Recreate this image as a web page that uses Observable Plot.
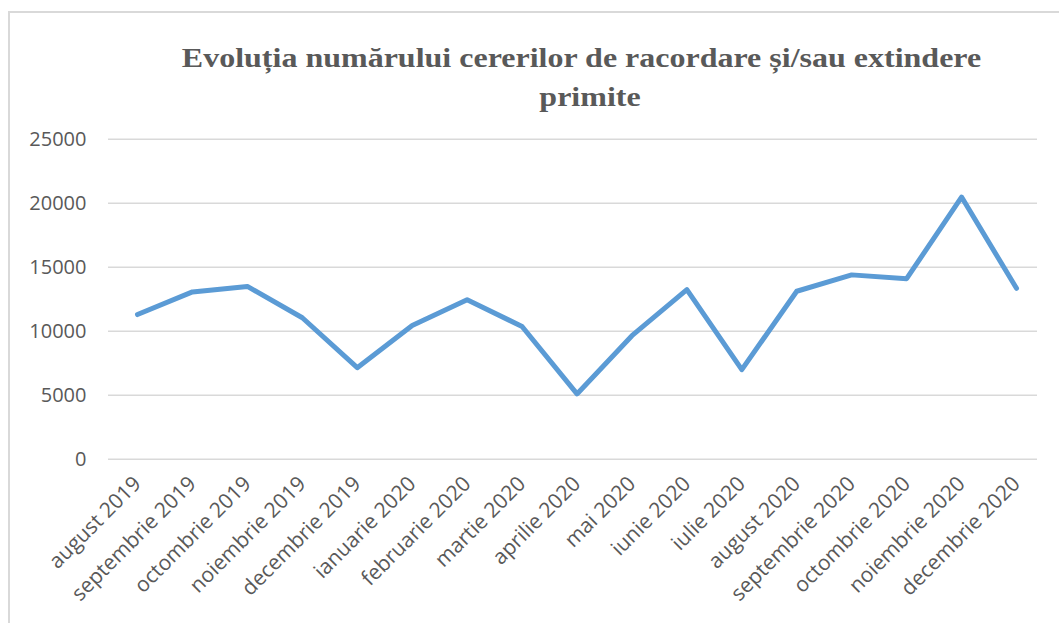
<!DOCTYPE html>
<html>
<head>
<meta charset="utf-8">
<script src="https://cdn.jsdelivr.net/npm/d3@7"></script>
<script src="https://cdn.jsdelivr.net/npm/@observablehq/plot@0.6"></script>
<style>
  html, body { margin: 0; padding: 0; background: #fff; }
  body { width: 1059px; height: 623px; overflow: hidden; position: relative; }
  #frame { position: absolute; left: 8px; top: 11px; width: 1100px; height: 700px; border: 2px solid #d9d9d9; box-sizing: border-box; }
  #title { position: relative; height: 120px; font-family: "Liberation Serif", "Times New Roman", serif; font-weight: bold; font-size: 32px; color: #595959; }
  #title .l1, #title .l2 { position: absolute; left: 0; text-align: center; white-space: nowrap; transform: scale(1, 0.85); }
  #title .l1 { width: 1163px; top: 40px; }
  #title .l2 { width: 1180px; top: 79px; }
  #chart { position: relative; }
</style>
</head>
<body>
<div id="frame"></div>
<div id="title"><div class="l1">Evoluția numărului cererilor de racordare și/sau extindere</div><div class="l2">primite</div></div>
<div id="chart"></div>
<script>
const months = [
  "august 2019", "septembrie 2019", "octombrie 2019", "noiembrie 2019", "decembrie 2019",
  "ianuarie 2020", "februarie 2020", "martie 2020", "aprilie 2020", "mai 2020",
  "iunie 2020", "iulie 2020", "august 2020", "septembrie 2020", "octombrie 2020",
  "noiembrie 2020", "decembrie 2020"
];
const values = [
  11300, 13070, 13500, 11050, 7150,
  10450, 12450, 10370, 5100, 9650,
  13250, 7000, 13120, 14400, 14100,
  20480, 13350
];
const yTicks = [0, 5000, 10000, 15000, 20000, 25000];

const data = months.map((m, i) => ({month: m, value: values[i]}));

const chart = Plot.plot({
  width: 1059,
  height: 503,
  marginLeft: 108,
  marginRight: 22,
  marginTop: 18.7,
  marginBottom: 164.3,
  style: {fontFamily: "'Open Sans', sans-serif", fontSize: "20px", color: "#595959", background: "transparent", overflow: "visible"},
  x: {type: "point", domain: months, range: [137, 1016], padding: 0, round: false, label: null},
  y: {domain: [0, 25000], label: null},
  marks: [
    Plot.ruleY(yTicks, {stroke: "#d9d9d9", strokeWidth: 1.6}),
    Plot.axisY(yTicks, {tickSize: 0, tickPadding: 22, label: null, tickFormat: d3.format("d"), fill: "#595959"}),
    Plot.axisX({tickSize: 0, tickRotate: -45, tickPadding: 21, label: null, fill: "#595959", fontSize: 21}),
    Plot.line(data, {x: "month", y: "value", stroke: "#5b9bd5", strokeWidth: 5, strokeLinejoin: "round", strokeLinecap: "round"})
  ]
});
document.getElementById("chart").appendChild(chart);
</script>
</body>
</html>
